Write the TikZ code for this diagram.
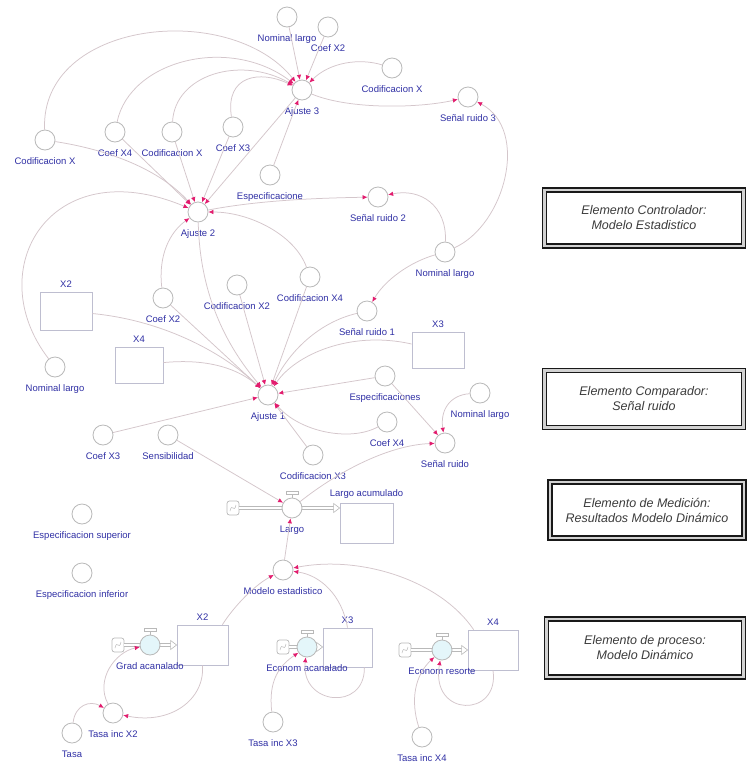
\documentclass[tikz,border=0pt]{standalone}
\usepackage{fontspec}
\setmainfont{Liberation Sans}
\usetikzlibrary{arrows.meta,calc}
\definecolor{connc}{RGB}{212,198,203}
\definecolor{arrc}{RGB}{226,28,110}
\definecolor{circc}{RGB}{185,185,185}
\definecolor{stockc}{RGB}{190,190,208}
\definecolor{labc}{RGB}{48,48,165}
\definecolor{boxtext}{RGB}{60,60,60}
\definecolor{valvef}{RGB}{228,246,250}
\newcommand\cvnode[4]{\node[conv,label={[lab,yshift=-6.5pt]below:#4}] (#1) at (#2,#3) {};}
\begin{document}
\begin{tikzpicture}[x=1pt,y=-1pt,
 conv/.style={circle, draw=circc, fill=white, line width=0.8pt, minimum size=20pt, inner sep=0pt},
 lab/.style={font=\fontsize{9.5}{10}\selectfont, text=labc, inner sep=1pt},
 stock/.style={rectangle, draw=stockc, fill=white, line width=0.8pt, inner sep=0pt},
 stocklab/.style={lab, yshift=3pt},
 valve/.style={conv, fill=valvef},
 cloudn/.style={rectangle, rounded corners=2.5pt, draw=circc, fill=white, line width=0.7pt, minimum width=12pt, minimum height=14pt, inner sep=0pt},
 conn/.style={draw=connc, line width=0.75pt, -{Latex[length=5pt,width=4.5pt,color=arrc]}},
 pipe/.style={draw=circc, line width=0.6pt, double=white, double distance=2.4pt},
 ebox/.style={rectangle, draw=black!90, line width=1.7pt, double=gray!35, double distance=2.2pt, fill=white, align=center, text=boxtext, font=\itshape\fontsize{12.5}{15}\selectfont},
]
\useasboundingbox (0,0) rectangle (749,764);
\fill[white] (0,0) rectangle (749,764);

% ---------- converters ----------
\cvnode{nlT}{287}{17}{Nominal largo}
\cvnode{cxTT}{328}{27}{Coef X2}
\cvnode{aj3}{302}{90}{Ajuste 3}
\cvnode{cxTR}{392}{68}{Codificacion X}
\cvnode{sr3}{468}{97}{Señal ruido 3}
\cvnode{cxL}{45}{140}{Codificacion X}
\cvnode{cx4T}{115}{132}{Coef X4}
\cvnode{cxM}{172}{132}{Codificacion X}
\cvnode{cx3T}{233}{127}{Coef X3}
\cvnode{esp}{270}{175}{Especificacione}
\cvnode{aj2}{198}{212}{Ajuste 2}
\cvnode{sr2}{378}{197}{Señal ruido 2}
\cvnode{nlR}{445}{252}{Nominal largo}
\cvnode{c4x}{310}{277}{Codificacion X4}
\cvnode{sr1}{367}{311}{Señal ruido 1}
\cvnode{c2x}{237}{285}{Codificacion X2}
\cvnode{cf2}{163}{298}{Coef X2}
\cvnode{nlL}{55}{367}{Nominal largo}
\cvnode{esps}{385}{376}{Especificaciones}
\cvnode{aj1}{268}{395}{Ajuste 1}
\cvnode{cf4}{387}{422}{Coef X4}
\cvnode{nlB}{480}{393}{Nominal largo}
\cvnode{sr}{445}{443}{Señal ruido}
\cvnode{c3x}{313}{455}{Codificacion X3}
\cvnode{cf3}{103}{435}{Coef X3}
\cvnode{sens}{168}{435}{Sensibilidad}
\cvnode{esup}{82}{514}{Especificacion superior}
\cvnode{einf}{82}{573}{Especificacion inferior}
\cvnode{me}{283}{570}{Modelo estadistico}
\cvnode{tx2}{113}{713}{Tasa inc X2}
\cvnode{tasa}{72}{733}{Tasa}
\cvnode{tx3}{273}{722}{Tasa inc X3}
\cvnode{tx4}{422}{737}{Tasa inc X4}

% ---------- stocks ----------
\node[stock, minimum width=52pt, minimum height=38pt, label={[stocklab]above:X2}] (X2L) at (66,311) {};
\node[stock, minimum width=48pt, minimum height=36pt, label={[stocklab]above:X4}] (X4L) at (139,365) {};
\node[stock, minimum width=52pt, minimum height=36pt, label={[stocklab]above:X3}] (X3R) at (438,350) {};
\node[stock, minimum width=53pt, minimum height=40pt, label={[stocklab]above:Largo acumulado}] (LA) at (366.5,523) {};
\node[stock, minimum width=51pt, minimum height=40pt, label={[stocklab]above:X2}] (X2B) at (202.5,645) {};
\node[stock, minimum width=49pt, minimum height=39pt, label={[stocklab]above:X3}] (X3B) at (347.5,647.5) {};
\node[stock, minimum width=50pt, minimum height=40pt, label={[stocklab]above:X4}] (X4B) at (493,650) {};

% ---------- flows ----------
\node[cloudn] (cl0) at (233,508) {};
\node[cloudn] (cl1) at (118,645) {};
\node[cloudn] (cl2) at (283,647) {};
\node[cloudn] (cl3) at (405,650) {};
\foreach \c in {cl0,cl1,cl2,cl3}{
  \draw[circc, line width=0.5pt] ($(\c.center)+(-3,3)$) .. controls ($(\c.center)+(-1,-6)$) and ($(\c.center)+(1,6)$) .. ($(\c.center)+(3,-3)$);
}
\coordinate (vlg) at (292,508);
\coordinate (vga) at (150,645);
\coordinate (vea) at (307,647);
\coordinate (ver) at (442,650);
\coordinate (tA) at ($(LA.west)+(0,-15)$);
\coordinate (tB) at (X2B.west);
\coordinate (tC) at ($(X3B.west)+(0,-0.5)$);
\coordinate (tD) at (X4B.west);
\draw[pipe] (cl0) -- (vlg) -- ($(tA)+(-5,0)$);
\draw[pipe] (cl1) -- (vga) -- ($(tB)+(-5,0)$);
\draw[pipe] (cl2) -- (vea) -- ($(tC)+(-5,0)$);
\draw[pipe] (cl3) -- (ver) -- ($(tD)+(-5,0)$);
\foreach \p in {tA,tB,tC,tD}{
  \draw[circc, fill=white, line width=0.6pt] ($(\p)+(-6,-4.5)$) -- (\p) -- ($(\p)+(-6,4.5)$) -- cycle;
}
\node[valve, fill=white, label={[lab,yshift=-6.5pt]below:Largo}] (largo) at (vlg) {};
\node[valve, label={[lab,yshift=-6.5pt]below:Grad acanalado}] (ga) at (vga) {};
\node[valve, label={[lab,yshift=-6.5pt]below:Econom acanalado}] (ea) at (vea) {};
\node[valve, label={[lab,yshift=-6.5pt]below:Econom resorte}] (er) at (ver) {};
\foreach \v in {largo,ga,ea,er}{
  \draw[circc, line width=0.6pt] (\v.north) -- ($(\v.north)+(0,-3)$);
  \draw[circc, line width=0.6pt, fill=white] ($(\v.north)+(-6,-3)$) rectangle ($(\v.north)+(6,-6)$);
}

% ---------- connectors into Ajuste 3 ----------
\draw[conn] (nlT) -- (aj3);
\draw[conn] (cxTT) -- (aj3);
\draw[conn] (cxL) .. controls (40,20) and (230,0) .. (aj3);
\draw[conn] (cx4T) .. controls (130,60) and (230,35) .. (aj3);
\draw[conn] (cxM) .. controls (175,75) and (240,55) .. (aj3);
\draw[conn] (cx3T) .. controls (225,75) and (260,70) .. (aj3);
\draw[conn] (cxTR) .. controls (360,58) and (330,62) .. (aj3);
\draw[conn] (esp) -- (aj3);
% Senal ruido 3 / 2 / 1
\draw[conn] (aj3) .. controls (350,110) and (420,108) .. (sr3);
\draw[conn] (nlR) .. controls (505,225) and (530,130) .. (sr3);
\draw[conn] (nlR) .. controls (447,205) and (420,188) .. (sr2);
\draw[conn] (nlR) .. controls (410,262) and (385,280) .. (sr1);
\draw[conn] (aj2) .. controls (260,200) and (320,198) .. (sr2);
% into Ajuste 2
\draw[conn] (cxL) .. controls (110,150) and (160,170) .. (aj2);
\draw[conn] (cx4T) -- (aj2);
\draw[conn] (cxM) -- (aj2);
\draw[conn] (cx3T) -- (aj2);
\draw[conn] (aj3) -- (aj2);
\draw[conn] (nlL) .. controls (-20,270) and (50,150) .. (aj2);
\draw[conn] (cf2) .. controls (158,255) and (170,232) .. (aj2);
\draw[conn] (c4x) .. controls (295,235) and (250,212) .. (aj2);
% into Ajuste 1
\draw[conn] (aj2) .. controls (200,300) and (230,350) .. (aj1);
\draw[conn] (X2L) .. controls (160,320) and (220,350) .. (aj1);
\draw[conn] (X4L) .. controls (210,358) and (240,370) .. (aj1);
\draw[conn] (cf2) -- (aj1);
\draw[conn] (c2x) -- (aj1);
\draw[conn] (c4x) -- (aj1);
\draw[conn] (sr1) .. controls (320,322) and (290,350) .. (aj1);
\draw[conn] (X3R) .. controls (350,330) and (295,355) .. (aj1);
\draw[conn] (esps) -- (aj1);
\draw[conn] (cf3) -- (aj1);
\draw[conn] (cf4) .. controls (350,442) and (300,432) .. (aj1);
\draw[conn] (c3x) -- (aj1);
% Senal ruido
\draw[conn] (esps) -- (sr);
\draw[conn] (largo) .. controls (340,470) and (390,445) .. (sr);
\draw[conn] (nlB) .. controls (450,395) and (440,410) .. (sr);
% Largo
\draw[conn] (sens) -- (largo);
\draw[conn] (me) -- (largo);
% Modelo estadistico
\draw[conn] ([xshift=-6pt]X2B.north east) .. controls (235,605) and (255,585) .. (me);
\draw[conn] (X3B.north) .. controls (342,595) and (320,575) .. (me);
\draw[conn] ([xshift=6pt]X4B.north west) .. controls (440,580) and (360,555) .. (me);
% process loops
\draw[conn] (X2B.south) .. controls (205,700) and (170,725) .. (tx2);
\draw[conn] (tx2) .. controls (95,680) and (115,652) .. (ga);
\draw[conn] (tasa) .. controls (75,705) and (90,700) .. (tx2);
\draw[conn] ([xshift=-8pt]X3B.south east) .. controls (365,712) and (300,705) .. (ea);
\draw[conn] (tx3) .. controls (268,680) and (280,665) .. (ea);
\draw[conn] (X4B.south) .. controls (500,718) and (430,718) .. (er);
\draw[conn] (tx4) .. controls (410,700) and (415,675) .. (er);

% ---------- right-hand boxes ----------
\node[ebox, minimum width=199pt, minimum height=56pt] (B1) at (644,218) {Elemento Controlador:\\Modelo Estadistico};
\node[ebox, minimum width=199pt, minimum height=57pt] (B2) at (644,399) {Elemento Comparador:\\Señal ruido};
\node[ebox, minimum width=194pt, minimum height=56pt] (B3) at (647,510) {Elemento de Medición:\\Resultados Modelo Dinámico};
\node[ebox, minimum width=197pt, minimum height=58pt] (B4) at (645,648) {Elemento de proceso:\\Modelo Dinámico};
\end{tikzpicture}
\end{document}
